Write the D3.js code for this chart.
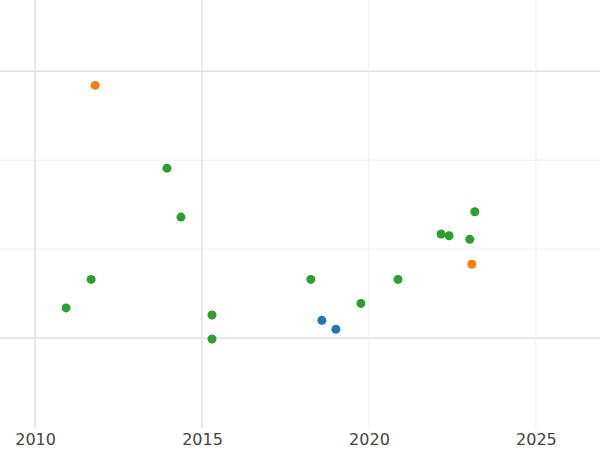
<!DOCTYPE html>
<html><head><meta charset="utf-8">
<script src="https://cdn.jsdelivr.net/npm/d3@7"></script>
<style>body{margin:0;background:#fff}</style></head>
<body><svg width="600" height="450"></svg>
<script>
const years = [2011.80, 2013.95, 2014.37, 2011.68, 2010.93, 2015.30, 2015.30, 2018.26, 2018.59, 2019.01, 2019.76, 2020.87, 2022.16, 2022.40, 2023.02, 2023.17, 2023.08];
const values = [2.84, 1.91, 1.36, 0.66, 0.34, 0.26, -0.01, 0.66, 0.20, 0.10, 0.39, 0.66, 1.17, 1.15, 1.11, 1.42, 0.83];
const groups = ['b', 'c', 'c', 'c', 'c', 'c', 'c', 'c', 'a', 'a', 'c', 'c', 'c', 'c', 'c', 'c', 'b'];
const xTicks = [2010, 2015, 2020, 2025];
const yTicks = [0, 1, 2, 3];

const svg = d3.select('svg');
const x = d3.scaleLinear().domain([2008.95, 2026.92]).range([0, 600]);
const y = d3.scaleLinear().domain([-1.01, 3.8]).range([428, 0]);
const color = d3.scaleOrdinal().domain(['a', 'b', 'c']).range(['#1f77b4', '#ff7f0e', '#2ca02c']);
const major = d => d === 0 || d === 3 || d === 2010 || d === 2015;

svg.append('g').selectAll('line').data(yTicks).enter().append('line')
  .attr('x1', 0).attr('x2', 600)
  .attr('y1', d => y(d)).attr('y2', d => y(d))
  .attr('stroke', d => major(d) ? '#e3e3e3' : '#efefef')
  .attr('stroke-width', d => major(d) ? 1.6 : 1);

svg.append('g').selectAll('line').data(xTicks).enter().append('line')
  .attr('y1', 0).attr('y2', 428)
  .attr('x1', d => x(d)).attr('x2', d => x(d))
  .attr('stroke', d => major(d) ? '#e3e3e3' : '#efefef')
  .attr('stroke-width', d => major(d) ? 1.6 : 1);

const ax = svg.append('g').attr('transform', 'translate(0,428)')
  .call(d3.axisBottom(x).tickValues(xTicks).tickFormat(d3.format('d')).tickSize(0).tickPadding(6));
ax.select('.domain').remove();
ax.selectAll('text').attr('fill', '#444').style('font-family', 'DejaVu Sans').style('font-size', '16px');

svg.append('g').selectAll('circle').data(years).enter().append('circle')
  .attr('cx', d => x(d))
  .attr('cy', (d, i) => y(values[i]))
  .attr('r', 4.5)
  .attr('fill', (d, i) => color(groups[i]));
</script></body></html>
